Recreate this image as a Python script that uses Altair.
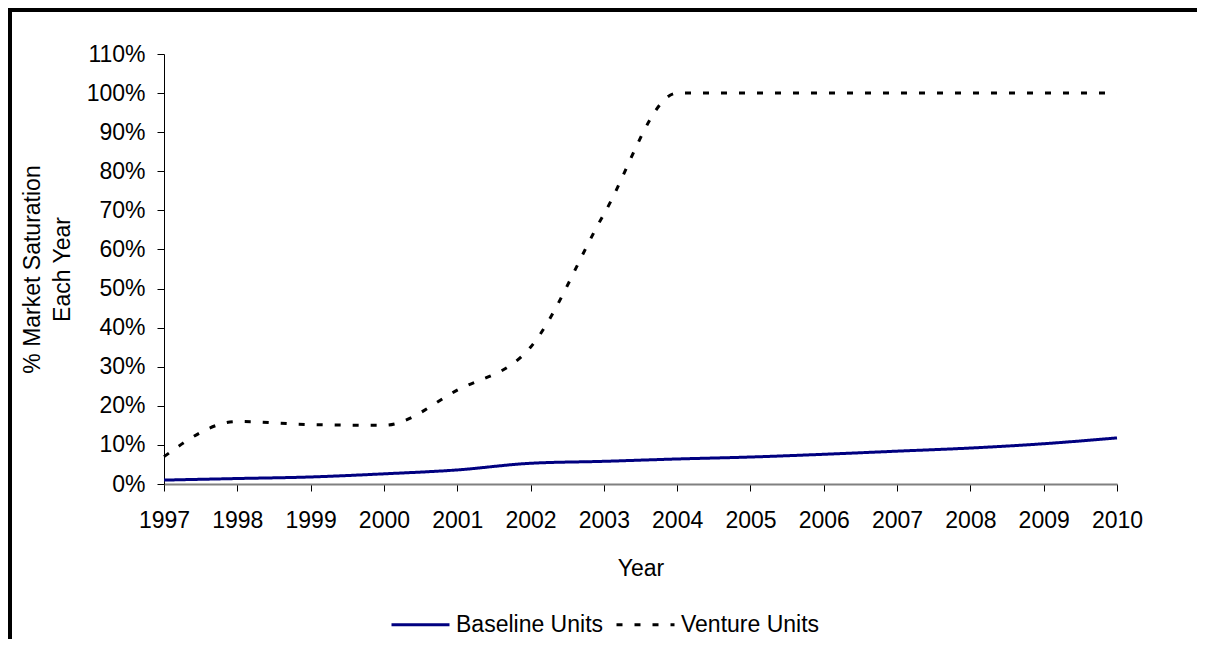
import altair as alt
import pandas as pd

years = list(range(1997, 2011))
baseline_pct = [1.0, 1.4, 1.8, 2.6, 3.6, 5.3, 5.8, 6.4, 6.9, 7.6, 8.4, 9.2, 10.3, 11.8]
venture_pct = [7.0, 16.0, 15.2, 15.0, 24.0, 35.0, 69.0, 100.0, 100.0, 100.0, 100.0, 100.0, 100.0, 100.0]
series_names = ["Baseline Units", "Venture Units"]
series_colors = ["#000080", "#000000"]
series_dashes = [[1, 0], [6, 12]]
y_tick_values = [i / 10 for i in range(12)]

rows = []
for name, vals in zip(series_names, [baseline_pct, venture_pct]):
    for yr, v in zip(years, vals):
        rows.append({"Year": yr, "Value": v / 100.0, "Series": name})
df = pd.DataFrame(rows)

FONT = "Liberation Sans"
W, H = 953, 430
PAD_L, PAD_T, PAD_R, PAD_B = 156, 46, 80, 155

legend_kw = dict(title=None, orient="none", direction="horizontal",
                 legendX=226, legendY=540,
                 symbolType="stroke", symbolSize=3364,
                 symbolStrokeWidth=3, labelOffset=5,
                 columnPadding=6, labelFont=FONT,
                 labelFontSize=23, labelColor="#000000")

lines = alt.Chart(df).mark_line(strokeWidth=3, interpolate="monotone").encode(
    x=alt.X("Year:Q",
            scale=alt.Scale(domain=[1997, 2010], nice=False, zero=False),
            axis=alt.Axis(values=years, format="d", title="Year", grid=False,
                          domainColor="#808080", domainWidth=2,
                          tickColor="#000000", tickSize=7, tickWidth=1,
                          labelPadding=18, titlePadding=25, labelFlush=False)),
    y=alt.Y("Value:Q",
            scale=alt.Scale(domain=[0, 1.1], nice=False),
            axis=alt.Axis(values=y_tick_values, format=".0%",
                          title=["% Market Saturation", "Each Year"], grid=False,
                          domainColor="#000000", domainWidth=1,
                          tickColor="#000000", tickSize=7, tickWidth=1,
                          labelPadding=12, titlePadding=12, titleLineHeight=30)),
    color=alt.Color("Series:N",
                    scale=alt.Scale(domain=series_names, range=series_colors),
                    legend=alt.Legend(**legend_kw)),
    strokeDash=alt.StrokeDash("Series:N",
                              scale=alt.Scale(domain=series_names, range=series_dashes),
                              legend=alt.Legend(**legend_kw)),
)

frame_df = pd.DataFrame({"k": [0]})
top_border = alt.Chart(frame_df).mark_rule(color="#000000", strokeWidth=4).encode(
    x=alt.value(-PAD_L), x2=alt.value(W + PAD_R), y=alt.value(-PAD_T + 2)
)
left_border = alt.Chart(frame_df).mark_rule(color="#000000", strokeWidth=4).encode(
    x=alt.value(-PAD_L + 2), y=alt.value(-PAD_T), y2=alt.value(H + PAD_B)
)

chart = alt.layer(lines, top_border, left_border).properties(
    width=W, height=H,
    autosize=alt.AutoSizeParams(type="none"),
    padding={"left": PAD_L, "top": PAD_T, "right": PAD_R, "bottom": PAD_B},
    background="#ffffff",
).configure_view(stroke=None).configure_axis(
    labelFont=FONT, labelFontSize=23, labelColor="#000000",
    titleFont=FONT, titleFontSize=23, titleColor="#000000", titleFontWeight="normal",
).configure_legend(labelFont=FONT, labelFontSize=23)

chart.save("out.html", embed_options={"renderer": "svg", "actions": False})
